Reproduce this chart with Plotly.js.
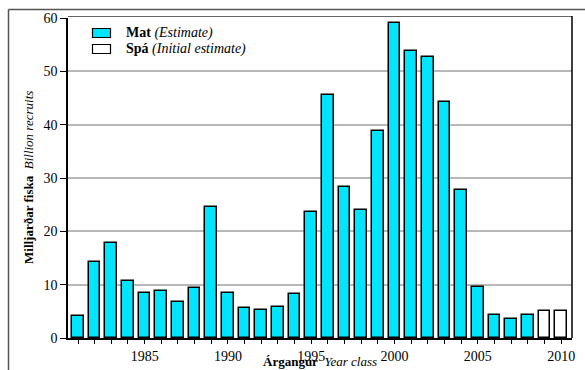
<!DOCTYPE html>
<html>
<head>
<meta charset="utf-8">
<script src="https://cdn.plot.ly/plotly-3.0.1.min.js"></script>
</head>
<body style="margin:0">
<div id="chart"></div>
<script>
// Data
const matYears = [1981,1982,1983,1984,1985,1986,1987,1988,1989,1990,1991,1992,1993,1994,1995,1996,1997,1998,1999,2000,2001,2002,2003,2004,2005,2006,2007,2008];
const matValues = [4.1,14.3,17.9,10.6,8.5,8.9,6.8,9.4,24.6,8.5,5.7,5.3,5.8,8.3,23.7,45.5,28.4,24.0,38.9,59.1,53.8,52.6,44.3,27.8,9.6,4.4,3.6,4.3];
const spaYears = [2009,2010];
const spaValues = [5.1,5.1];
const xTickVals = [1985,1990,1995,2000,2005,2010];
const yTickVals = [0,10,20,30,40,50,60];

const W = 585, H = 370;
const M = {l:68, r:13, t:18, b:32};
const pw = W - M.l - M.r, ph = H - M.t - M.b;
const px = x => (x - M.l) / pw;
const py = y => (H - M.b - y) / ph;

const FONTFAM = 'Liberation Serif';

const traces = [
  {type:'bar', x:matYears, y:matValues, width:0.7, name:'Mat',
   marker:{color:'#00e5ff', line:{color:'#000', width:1.5}}, showlegend:false},
  {type:'bar', x:spaYears, y:spaValues, width:0.7, name:'Spá',
   marker:{color:'#ffffff', line:{color:'#000', width:1.5}}, showlegend:false}
];

const layout = {
  width:W, height:H,
  margin:{l:M.l, r:M.r, t:M.t, b:M.b, pad:0},
  paper_bgcolor:'#fff', plot_bgcolor:'#fff',
  font:{family:FONTFAM, size:14, color:'#000'},
  showlegend:false,
  xaxis:{range:[1980.4,2010.65], tickvals:xTickVals, ticktext:xTickVals.map(String),
         ticks:'outside', ticklen:4, tickwidth:1.2, tickcolor:'#000',
         minor:{dtick:1, tick0:1981, ticks:'outside', ticklen:4, tickwidth:1.2, tickcolor:'#000', showgrid:false},
         showline:true, linecolor:'#000', linewidth:1.5, showgrid:false, zeroline:false,
         tickfont:{family:FONTFAM, size:14, color:'#000'}},
  yaxis:{range:[0,60], tickvals:yTickVals, ticks:'outside', ticklen:6, tickwidth:1.2, tickcolor:'#000',
         showline:true, linecolor:'#000', linewidth:1.5, showgrid:true, gridcolor:'#b8b8b8', gridwidth:1.5,
         zeroline:false, tickfont:{family:FONTFAM, size:14, color:'#000'}},
  bargap:0,
  shapes:[
    {type:'line', xref:'paper', yref:'paper', x0:px(8.5), x1:px(600), y0:py(9.5), y1:py(9.5), line:{color:'#555', width:1.5}},
    {type:'line', xref:'paper', yref:'paper', x0:px(8.5), x1:px(8.5), y0:py(9.5), y1:py(400), line:{color:'#555', width:1.5}},
    {type:'line', xref:'paper', yref:'paper', x0:0, x1:1, y0:py(16.5), y1:py(16.5), line:{color:'#666', width:1}},
    {type:'line', xref:'paper', yref:'paper', x0:1, x1:1, y0:0, y1:py(16), line:{color:'#000', width:1.5}},
    {type:'rect', xref:'paper', yref:'paper', x0:px(92.5), x1:px(110.5), y0:py(28.5), y1:py(37.5), fillcolor:'#00e5ff', line:{color:'#000', width:1.2}},
    {type:'rect', xref:'paper', yref:'paper', x0:px(92.5), x1:px(110.5), y0:py(44.5), y1:py(53.5), fillcolor:'#ffffff', line:{color:'#000', width:1.2}}
  ],
  annotations:[
    {xref:'paper', yref:'paper', x:px(124), y:py(33), xanchor:'left', yanchor:'middle', showarrow:false,
     text:'<b>Mat</b> <i>(Estimate)</i>', font:{family:'Liberation Serif', size:14}},
    {xref:'paper', yref:'paper', x:px(124), y:py(49), xanchor:'left', yanchor:'middle', showarrow:false,
     text:'<b>Spá</b> <i>(Initial estimate)</i>', font:{family:'Liberation Serif', size:14}},
    {xref:'paper', yref:'paper', x:0.5, y:py(371), xanchor:'center', yanchor:'bottom', showarrow:false,
     text:'<b>Árgangur</b>  <i>Year class</i>', font:{family:'Liberation Serif', size:13}},
    {xref:'paper', yref:'paper', x:px(28), y:0.5, xanchor:'center', yanchor:'middle', showarrow:false, textangle:-90,
     text:'<b>Milljarðar fiska</b>  <i>Billion recruits</i>', font:{family:'Liberation Serif', size:13}}
  ]
};

Plotly.newPlot('chart', traces, layout, {displayModeBar:false});
</script>
</body>
</html>
